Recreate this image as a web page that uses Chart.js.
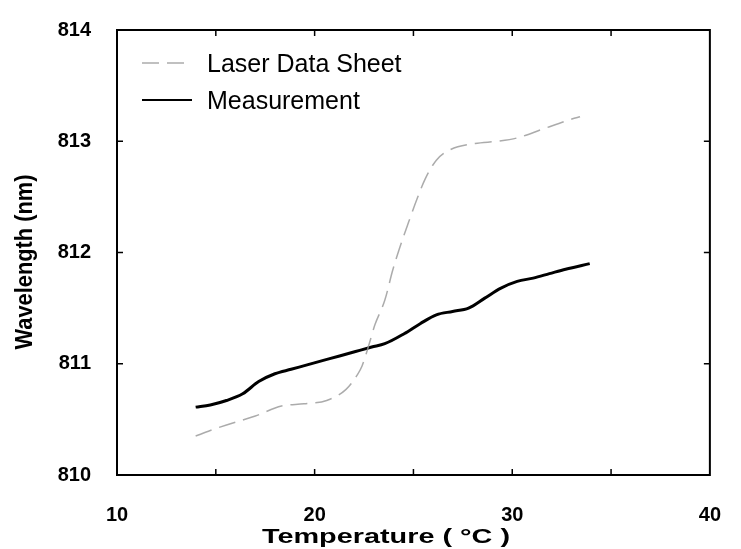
<!DOCTYPE html>
<html>
<head>
<meta charset="utf-8">
<script src="https://cdn.jsdelivr.net/npm/chart.js@4"></script>
<style>
  body { margin: 0; background: #fff; }
  canvas { display: block; }
</style>
</head>
<body>
<canvas id="chart" width="741" height="549"></canvas>
<script>
// Measurement curve (temperature in C, wavelength in nm)
const measTemp = [13.98, 14.72, 15.54, 16.36, 17.17, 17.99, 18.81, 19.62, 20.44, 21.26, 22.07, 22.89, 23.55,
  24.53, 25.34, 26.16, 26.98, 27.79, 28.61, 29.43, 30.25, 31.06, 31.88, 32.70, 33.92];
const measWave = [810.61, 810.63, 810.67, 810.73, 810.84, 810.91, 810.95, 810.99, 811.03, 811.07, 811.11, 811.15, 811.18,
  811.27, 811.36, 811.44, 811.47, 811.50, 811.59, 811.68, 811.74, 811.77, 811.81, 811.85, 811.90];

// Laser data sheet curve
const laserTemp = [13.98, 14.72, 15.54, 17.0, 18.32, 19.46, 20.61, 21.59, 22.16, 22.40, 22.73, 23.05, 23.55,
  23.95, 24.28, 24.77, 25.18, 25.59, 26.16, 26.81, 28.12, 29.26, 30.25, 31.55, 33.02, 33.43];
const laserWave = [810.35, 810.40, 810.45, 810.53, 810.62, 810.64, 810.67, 810.77, 810.90, 810.98, 811.16, 811.35, 811.57,
  811.84, 812.03, 812.28, 812.48, 812.66, 812.83, 812.92, 812.98, 813.00, 813.03, 813.11, 813.20, 813.22];

const seriesNames = ["Laser Data Sheet", "Measurement"];
const xTitle = "Temperature ( \u00B0C )";
const yTitle = "Wavelength (nm)";

const sansFont = '"Liberation Sans", Arial, sans-serif';

function toPoints(xs, ys) {
  return xs.map((x, i) => ({ x: x, y: ys[i] }));
}

// frame, inward tick marks, legend and axis titles
const decorPlugin = {
  id: "decor",
  afterDatasetsDraw(chart) {
    const ctx = chart.ctx;
    const a = chart.chartArea;
    const xs = chart.scales.x;
    const ys = chart.scales.y;
    ctx.save();

    // box round the plot
    ctx.strokeStyle = "#000";
    ctx.lineWidth = 2;
    ctx.strokeRect(a.left, a.top, a.right - a.left, a.bottom - a.top);

    // inner ticks on all four sides
    ctx.lineWidth = 1.5;
    ctx.beginPath();
    xs.ticks.forEach((t) => {
      if (t.value === xs.min || t.value === xs.max) return;
      const px = xs.getPixelForValue(t.value);
      ctx.moveTo(px, a.bottom);
      ctx.lineTo(px, a.bottom - 6);
      ctx.moveTo(px, a.top);
      ctx.lineTo(px, a.top + 6);
    });
    ys.ticks.forEach((t) => {
      if (t.value === ys.min || t.value === ys.max) return;
      const py = ys.getPixelForValue(t.value);
      ctx.moveTo(a.left, py);
      ctx.lineTo(a.left + 6, py);
      ctx.moveTo(a.right, py);
      ctx.lineTo(a.right - 6, py);
    });
    ctx.stroke();

    // legend in the top left corner
    chart.data.datasets.forEach((ds, i) => {
      const ly = 63 + i * 37;
      ctx.beginPath();
      ctx.strokeStyle = ds.borderColor;
      ctx.lineWidth = i === 0 ? ds.borderWidth : 2;
      ctx.setLineDash(ds.borderDash || []);
      ctx.moveTo(142, ly);
      ctx.lineTo(192, ly);
      ctx.stroke();
      ctx.setLineDash([]);
      ctx.fillStyle = "#000";
      ctx.font = "25px " + sansFont;
      ctx.textAlign = "left";
      ctx.textBaseline = "alphabetic";
      ctx.fillText(ds.label, 207, ly + 9);
    });

    // x axis title
    ctx.font = "bold 21px " + sansFont;
    ctx.textAlign = "center";
    ctx.textBaseline = "alphabetic";
    let w = ctx.measureText(xTitle).width;
    ctx.save();
    ctx.translate(386, 543);
    ctx.scale(248 / w, 1);
    ctx.fillText(xTitle, 0, 0);
    ctx.restore();

    // y axis title
    ctx.font = "bold 20px " + sansFont;
    ctx.textBaseline = "middle";
    w = ctx.measureText(yTitle).width;
    ctx.save();
    ctx.translate(26, 262);
    ctx.rotate(-Math.PI / 2);
    ctx.scale(175 / w, 1.15);
    ctx.fillText(yTitle, 0, 0);
    ctx.restore();

    ctx.restore();
  },
};

new Chart(document.getElementById("chart"), {
  type: "line",
  data: {
    datasets: [
      {
        label: seriesNames[0],
        data: toPoints(laserTemp, laserWave),
        borderColor: "rgba(150,150,150,0.8)",
        borderWidth: 1.5,
        borderDash: [17, 8],
        pointRadius: 0,
        cubicInterpolationMode: "monotone",
      },
      {
        label: seriesNames[1],
        data: toPoints(measTemp, measWave),
        borderColor: "#000",
        borderWidth: 3,
        pointRadius: 0,
        cubicInterpolationMode: "monotone",
      },
    ],
  },
  options: {
    responsive: false,
    animation: false,
    devicePixelRatio: 1,
    layout: { padding: { left: 0, top: 21, right: 12, bottom: 0 } },
    plugins: {
      legend: { display: false },
      tooltip: { enabled: false },
    },
    scales: {
      x: {
        type: "linear",
        min: 10,
        max: 40,
        grid: { display: false },
        border: { display: false },
        ticks: {
          stepSize: 5,
          padding: 20,
          maxRotation: 0,
          color: "#000",
          font: { family: sansFont, size: 20, weight: "bold" },
          callback: (v) => (v % 10 === 0 ? v : ""),
        },
        afterFit(scale) {
          scale.height = 74;
        },
      },
      y: {
        min: 810,
        max: 814,
        grid: { display: false },
        border: { display: false },
        ticks: {
          stepSize: 1,
          padding: 18,
          color: "#000",
          font: { family: sansFont, size: 20, weight: "bold" },
        },
        afterFit(scale) {
          scale.width = 117;
        },
      },
    },
  },
  plugins: [decorPlugin],
});
</script>
</body>
</html>
